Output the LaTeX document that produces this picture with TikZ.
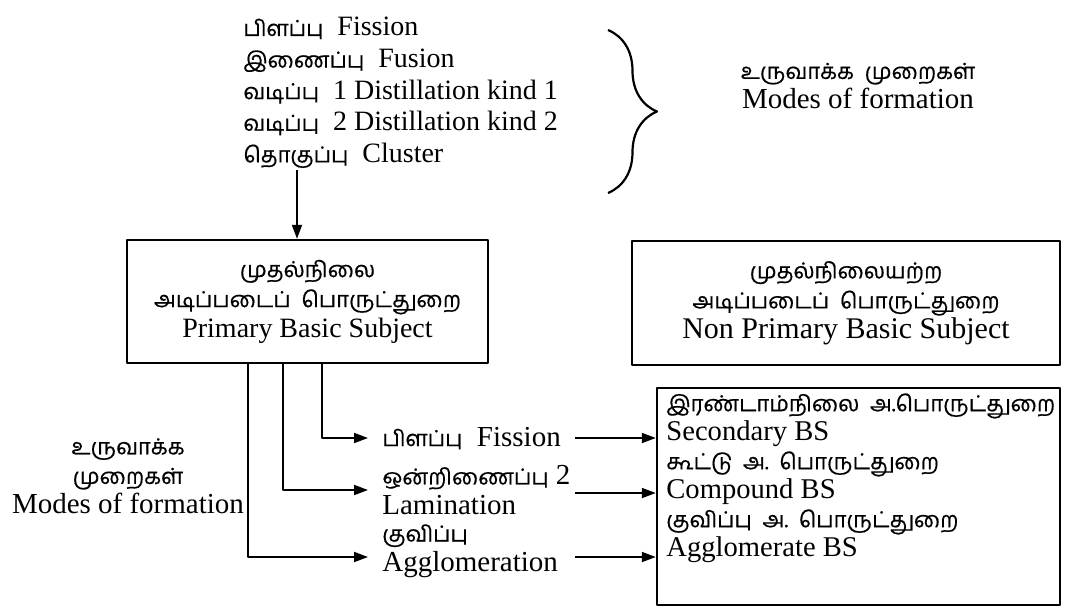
\documentclass[tikz,border=0pt]{standalone}
\usepackage{fontspec}
\setmainfont{Liberation Serif}
\newfontfamily\tamilfont[Script=Tamil,FakeBold=0.5]{Hind Madurai}
\newcommand\tm[1]{{\tamilfont\fontsize{11}{13}\selectfont #1}}
\usetikzlibrary{arrows.meta,decorations.pathreplacing,positioning}

\begin{document}
\begin{tikzpicture}[x=0.5pt,y=-0.5pt,line join=round,>={Triangle[length=7pt,width=5pt]},
    box/.style={draw,line width=1.2pt,inner sep=0pt,align=center},
    link/.style={line width=.9pt},
    mid/.style={anchor=west,align=left,inner xsep=7pt,inner ysep=0pt,font=\fontsize{14.5}{15}\selectfont}]
  \useasboundingbox (0,0) rectangle (1067,612);
  % kinds of modes, with brace
  \node[anchor=north west,align=left,inner sep=0pt,font=\fontsize{14}{15.8}\selectfont] (kinds) at (243,17)
    {\tm{பிளப்பு}\ \ Fission\\
     \tm{இணைப்பு}\ \ Fusion\\
     \tm{வடிப்பு}\ \ 1 Distillation kind 1\\
     \tm{வடிப்பு}\ \ 2 Distillation kind 2\\
     \tm{தொகுப்பு}\ \ Cluster};
  \draw[line width=1.1pt,decorate,decoration={brace,amplitude=24.5pt}] (608,30) -- (608,193);
  \node[align=center,font=\fontsize{14.5}{15}\selectfont] (modesR) at (858,86)
    {\tm{உருவாக்க\ \ முறைகள்}\\ Modes of formation};
  % basic subjects
  \node[box,minimum width=180.5pt,minimum height=61.5pt,font=\fontsize{14}{15}\selectfont] (pbs) at (307.5,301.5)
    {\tm{முதல்நிலை}\\ \tm{அடிப்படைப்\ \ பொருட்துறை}\\ Primary Basic Subject};
  \node[box,minimum width=214pt,minimum height=62pt,font=\fontsize{15}{15}\selectfont] (npbs) at (846,303)
    {\tm{முதல்நிலையற்ற}\\ \tm{அடிப்படைப்\ \ பொருட்துறை}\\ Non Primary Basic Subject};
  \coordinate (kinds-out) at (297,170);
  \draw[link,->] (kinds-out) -- (kinds-out |- pbs.north);
  % modes of formation (left)
  \node[align=center,font=\fontsize{14.5}{14.8}\selectfont] (modesL) at (128,476)
    {\tm{உருவாக்க}\\ \tm{முறைகள்}\\ Modes of formation};
  \node[mid] (mfis) at (368,438) {\tm{பிளப்பு}\ \ Fission};
  \node[mid] (mlam) at (368,490) {\tm{ஒன்றிணைப்பு}\ 2\\ Lamination};
  \node[mid] (magg) at (368,551) {\tm{குவிப்பு}\\ Agglomeration};
  \draw[link,->] (pbs.south) ++(14.5,0) |- (mfis.west);
  \draw[link,->] (pbs.south) ++(-24.5,0) |- (mlam.west);
  \draw[link,->] (pbs.south) ++(-59.5,0) |- ([yshift=-3pt]magg.west);
  % derived subjects
  \node[box,minimum width=201.5pt,minimum height=108.5pt] (der) at (858.5,496.5) {};
  \node[anchor=north west,align=left,inner sep=0pt,font=\fontsize{14.3}{14.5}\selectfont] (dertext) at (666,393)
    {\tm{இரண்டாம்நிலை\ \ அ.பொருட்துறை}\\ Secondary BS\\
     \tm{கூட்டு\ \ அ.\ \ பொருட்துறை}\\ Compound BS\\
     \tm{குவிப்பு\ \ அ.\ \ பொருட்துறை}\\ Agglomerate BS};
  \draw[link,->] (mfis.east) -- (mfis.east -| der.west);
  \draw[link,->] ([yshift=-1.5pt]mlam.east -| mfis.east) -- ([yshift=-1.5pt]mlam.east -| der.west);
  \draw[link,->] ([yshift=-3pt]magg.east -| mfis.east) -- ([yshift=-3pt]magg.east -| der.west);
\end{tikzpicture}
\end{document}
